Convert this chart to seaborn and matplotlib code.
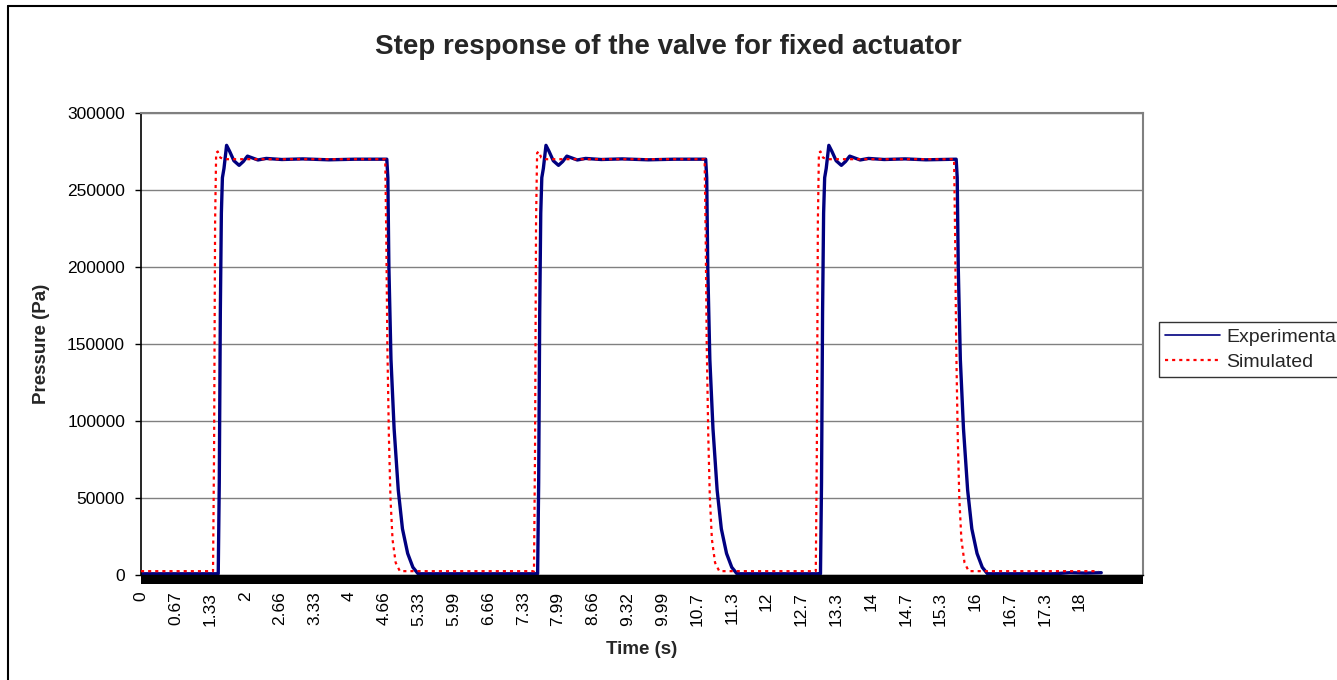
import matplotlib
matplotlib.use("Agg")
import matplotlib.pyplot as plt
import seaborn as sns
import pandas as pd
from matplotlib.lines import Line2D
from matplotlib.patches import Rectangle

# ---------------- data ----------------
title = "Step response of the valve for fixed actuator"
x_label = "Time (s)"
y_label = "Pressure (Pa)"
series_names = ["Experimental", "Simulated"]

x_tick_labels = ["0", "0.67", "1.33", "2", "2.66", "3.33", "4", "4.66", "5.33",
                 "5.99", "6.66", "7.33", "7.99", "8.66", "9.32", "9.99", "10.7",
                 "11.3", "12", "12.7", "13.3", "14", "14.7", "15.3", "16", "16.7",
                 "17.3", "18"]
x_tick_step = 0.666
y_ticks = [0, 50000, 100000, 150000, 200000, 250000, 300000]

t_exp = [0.00, 1.48, 1.50, 1.52, 1.54, 1.56, 1.59, 1.64, 1.70, 1.78, 1.88, 1.96,
         2.04, 2.12, 2.24, 2.40, 2.70, 3.10, 3.60, 4.10, 4.71,
         4.73, 4.75, 4.79, 4.85, 4.93, 5.01, 5.11, 5.21, 5.31,
         7.58, 7.60, 7.62, 7.64, 7.66, 7.68, 7.71, 7.76, 7.82, 7.90, 8.00, 8.08,
         8.16, 8.24, 8.36, 8.52, 8.82, 9.22, 9.72, 10.22, 10.82,
         10.84, 10.86, 10.90, 10.96, 11.04, 11.12, 11.22, 11.32, 11.42,
         13.00, 13.02, 13.04, 13.06, 13.08, 13.10, 13.13, 13.18, 13.24, 13.32,
         13.42, 13.50, 13.58, 13.66, 13.78, 13.94, 14.24, 14.64, 15.04, 15.62,
         15.64, 15.66, 15.70, 15.76, 15.84, 15.92, 16.02, 16.12, 16.22,
         17.50, 17.80, 18.10, 18.40]
p_exp = [800, 800, 60000, 170000, 235000, 258000, 264000, 279000, 275000, 269000,
         266000, 268500, 272000, 271000, 269500, 270500, 269800, 270200, 269600,
         270000, 270000,
         258000, 200000, 140000, 95000, 55000, 30000, 14000, 5000, 800,
         800, 800, 60000, 170000, 235000, 258000, 264000, 279000, 275000, 269000,
         266000, 268500, 272000, 271000, 269500, 270500, 269800, 270200, 269600,
         270000, 270000,
         258000, 200000, 140000, 95000, 55000, 30000, 14000, 5000, 800,
         800, 800, 60000, 170000, 235000, 258000, 264000, 279000, 275000, 269000,
         266000, 268500, 272000, 271000, 269500, 270500, 269800, 270200, 269600,
         270000,
         258000, 200000, 140000, 95000, 55000, 30000, 14000, 5000, 800,
         800, 1500, 1200, 1500]

t_sim = [0.00, 1.38, 1.40, 1.42, 1.44, 1.47, 1.52, 1.60,
         4.68, 4.70, 4.72, 4.75, 4.78, 4.82, 4.88, 4.96,
         7.53, 7.55, 7.57, 7.59, 7.62, 7.67, 7.75,
         10.80, 10.82, 10.84, 10.87, 10.90, 10.94, 11.00, 11.08,
         12.93, 12.95, 12.97, 12.99, 13.02, 13.07, 13.15,
         15.58, 15.60, 15.62, 15.65, 15.68, 15.72, 15.78, 15.86,
         18.35]
p_sim = [2500, 2500, 80000, 230000, 274000, 275000, 271000, 270000,
         270000, 220000, 150000, 90000, 50000, 23000, 8000, 2500,
         2500, 80000, 230000, 274000, 275000, 271000, 270000,
         270000, 220000, 150000, 90000, 50000, 23000, 8000, 2500,
         2500, 80000, 230000, 274000, 275000, 271000, 270000,
         270000, 220000, 150000, 90000, 50000, 23000, 8000, 2500,
         2500]

# ---------------- figure ----------------
sns.set_theme(style="white")
plt.rcParams["font.family"] = ["Liberation Sans", "DejaVu Sans"]

W, H = 1337, 680
fig = plt.figure(figsize=(W / 100, H / 100), dpi=100)
fig.patch.set_facecolor("white")

L, R, T, B = 141, 1143, 113, 575
ax = fig.add_axes([L / W, 1 - B / H, (R - L) / W, (B - T) / H])

df_exp = pd.DataFrame({"t": t_exp, "p": p_exp})
df_sim = pd.DataFrame({"t": t_sim, "p": p_sim})

sns.lineplot(data=df_sim, x="t", y="p", ax=ax, color="#FF0000", lw=1.6,
             linestyle=(0, (1.4, 1.8)), sort=False, estimator=None, zorder=3)
sns.lineplot(data=df_exp, x="t", y="p", ax=ax, color="#000080", lw=2.4,
             sort=False, estimator=None, zorder=2)

ax.set_xlim(0, 19.2)
ax.set_ylim(0, 300000)

ax.set_yticks(y_ticks)
ax.set_yticklabels([str(v) for v in y_ticks], fontsize=12.5)
ax.set_xticks([i * x_tick_step for i in range(len(x_tick_labels))])
ax.set_xticklabels(x_tick_labels, rotation=90, fontsize=12.5)

ax.grid(axis="y", color="#808080", lw=1.0)
ax.grid(axis="x", visible=False)
ax.set_axisbelow(True)

for s in ["top", "right"]:
    ax.spines[s].set_color("#808080")
    ax.spines[s].set_linewidth(1.5)
ax.spines["left"].set_color("black")
ax.spines["left"].set_linewidth(1.2)
ax.spines["bottom"].set_color("black")
ax.spines["bottom"].set_linewidth(1.0)

ax.tick_params(axis="y", direction="out", length=4.5, width=1, color="black",
               left=True, pad=7, labelcolor="black")
ax.tick_params(axis="x", length=0, pad=12, labelcolor="black")

# dense category tick marks rendered as a solid black band below the axis
band_h = 9 / (B - T)
ax.add_patch(Rectangle((0, -band_h), 1.0, band_h, transform=ax.transAxes,
                       facecolor="black", edgecolor="none", clip_on=False, zorder=5))

ax.set_xlabel(x_label, fontsize=13.5, fontweight="bold", labelpad=11)
ax.set_ylabel(y_label, fontsize=13.5, fontweight="bold", labelpad=12)
fig.text(0.5, 1 - 47 / H, title, fontsize=20, fontweight="bold",
         ha="center", va="center")

handles = [Line2D([], [], color="#000080", lw=1.2),
           Line2D([], [], color="#FF0000", lw=1.6, linestyle=(0, (1.4, 1.8)))]
leg = fig.legend(handles, series_names, loc="lower left",
                 bbox_to_anchor=(1159 / W, 1 - 377 / H), fontsize=14,
                 frameon=True, fancybox=False, handlelength=2.85,
                 handletextpad=0.3, borderpad=0.3, labelspacing=0.4,
                 borderaxespad=0)
leg.get_frame().set_edgecolor("black")
leg.get_frame().set_linewidth(1.0)

# chart-area border (left and top visible)
fig.add_artist(Line2D([8 / W, 8 / W], [-0.01, 1 - 6 / H], color="black", lw=1.5,
                      transform=fig.transFigure))
fig.add_artist(Line2D([8 / W, 1.01], [1 - 6 / H, 1 - 6 / H], color="black", lw=1.5,
                      transform=fig.transFigure))

fig.savefig("out.png", dpi=100)
